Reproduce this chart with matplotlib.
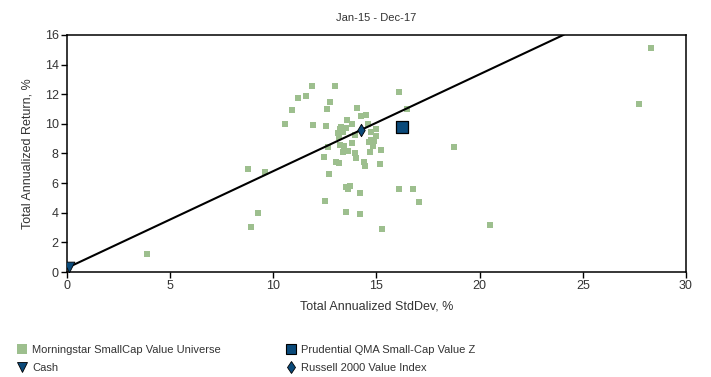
import matplotlib.pyplot as plt
from matplotlib.lines import Line2D

plt.rcParams['font.family'] = ['Liberation Sans', 'DejaVu Sans']

# =============================================================================
# Data (Jan-15 - Dec-17)
# =============================================================================
univ_std = [3.88, 8.77, 9.60, 9.26, 8.92, 10.57, 10.91, 11.20, 11.59, 11.88,
            12.99, 11.92, 12.55, 12.60, 12.75, 12.46, 12.65, 12.70, 12.51, 13.04,
            13.18, 13.23, 13.43, 13.38, 13.62, 13.96, 14.01, 13.81, 13.14, 13.23,
            13.38, 13.52, 13.18, 13.28, 13.57, 13.81, 13.96, 14.06, 14.25, 14.49,
            14.59, 14.74, 14.98, 14.98, 14.88, 14.74, 14.64, 14.83, 14.69, 15.22,
            14.40, 14.44, 15.17, 13.52, 13.72, 13.62, 14.20, 13.52, 14.20, 15.27,
            16.09, 16.48, 16.09, 16.77, 17.06, 18.76, 20.50, 28.31, 27.73]
univ_ret = [1.22, 6.95, 6.75, 3.98, 3.04, 9.99, 10.94, 11.75, 11.88, 12.56,
            12.56, 9.93, 9.86, 11.01, 11.48, 7.77, 8.44, 6.62, 4.79, 7.43,
            7.36, 8.58, 8.51, 8.10, 8.17, 8.04, 7.70, 8.71, 9.39, 9.66,
            9.45, 9.72, 9.12, 9.79, 10.26, 9.99, 9.25, 11.07, 10.53, 10.60,
            9.99, 9.45, 9.66, 9.18, 8.85, 8.91, 8.78, 8.51, 8.10, 8.24,
            7.43, 7.16, 7.29, 5.74, 5.81, 5.60, 5.33, 4.05, 3.92, 2.90,
            12.15, 11.01, 5.60, 5.60, 4.73, 8.44, 3.17, 15.12, 11.34]

fund_std, fund_ret = 16.24, 9.79      # Prudential QMA Small-Cap Value Z
cash_std, cash_ret = 0.10, 0.34       # Cash
index_std, index_ret = 14.25, 9.59    # Russell 2000 Value Index

GREEN = '#9dbf8e'
NAVY = '#0b4a7a'
TEXT = '#333333'

# =============================================================================
# Plot
# =============================================================================
fig = plt.figure(figsize=(7.11, 3.77), dpi=100)
ax = fig.add_axes([0.0942, 0.2785, 0.8706, 0.6287])

ax.scatter(univ_std, univ_ret, marker='s', s=16, color=GREEN, linewidths=0, zorder=2)
ax.axline((cash_std, cash_ret), (index_std, index_ret), color='black', lw=1.5, zorder=3)
ax.scatter([fund_std], [fund_ret], marker='s', s=85, color=NAVY,
           edgecolors='black', linewidths=0.9, zorder=4)
ax.scatter([cash_std], [cash_ret], marker='v', s=60, color=NAVY,
           edgecolors='black', linewidths=0.6, zorder=4)
ax.scatter([index_std], [index_ret], marker='d', s=40, color=NAVY,
           edgecolors='black', linewidths=0.6, zorder=4)

ax.set_xlim(0, 30)
ax.set_ylim(0, 16)
ax.set_xticks(range(0, 31, 5))
ax.set_yticks(range(0, 17, 2))
ax.tick_params(length=4, width=1, labelsize=9, colors=TEXT, pad=2)
ax.tick_params(color='black')
for s in ax.spines.values():
    s.set_linewidth(1.1)

ax.set_title('Jan-15 - Dec-17', fontsize=8, color=TEXT, pad=10)
ax.set_xlabel('Total Annualized StdDev, %', fontsize=9, color=TEXT, labelpad=6)
ax.set_ylabel('Total Annualized Return, %', fontsize=9, color=TEXT, labelpad=8)

# Legend: two single-column blocks
h_univ = Line2D([], [], ls='none', marker='s', ms=7, color=GREEN, mew=0)
h_cash = Line2D([], [], ls='none', marker='v', ms=7, color=NAVY, mec='black', mew=0.6)
h_fund = Line2D([], [], ls='none', marker='s', ms=7, color=NAVY, mec='black', mew=0.8)
h_idx = Line2D([], [], ls='none', marker='d', ms=6, color=NAVY, mec='black', mew=0.6)

leg_kw = dict(frameon=False, fontsize=8, labelcolor=TEXT, handlelength=0.8,
              handletextpad=0.5, labelspacing=0.75, borderaxespad=0, borderpad=0,
              loc='upper left')
fig.legend([h_univ, h_cash], ['Morningstar SmallCap Value Universe', 'Cash'],
           bbox_to_anchor=(0.025, 0.085), **leg_kw)
fig.legend([h_fund, h_idx], ['Prudential QMA Small-Cap Value Z', 'Russell 2000 Value Index'],
           bbox_to_anchor=(0.403, 0.085), **leg_kw)

fig.savefig('out.png', dpi=100)
